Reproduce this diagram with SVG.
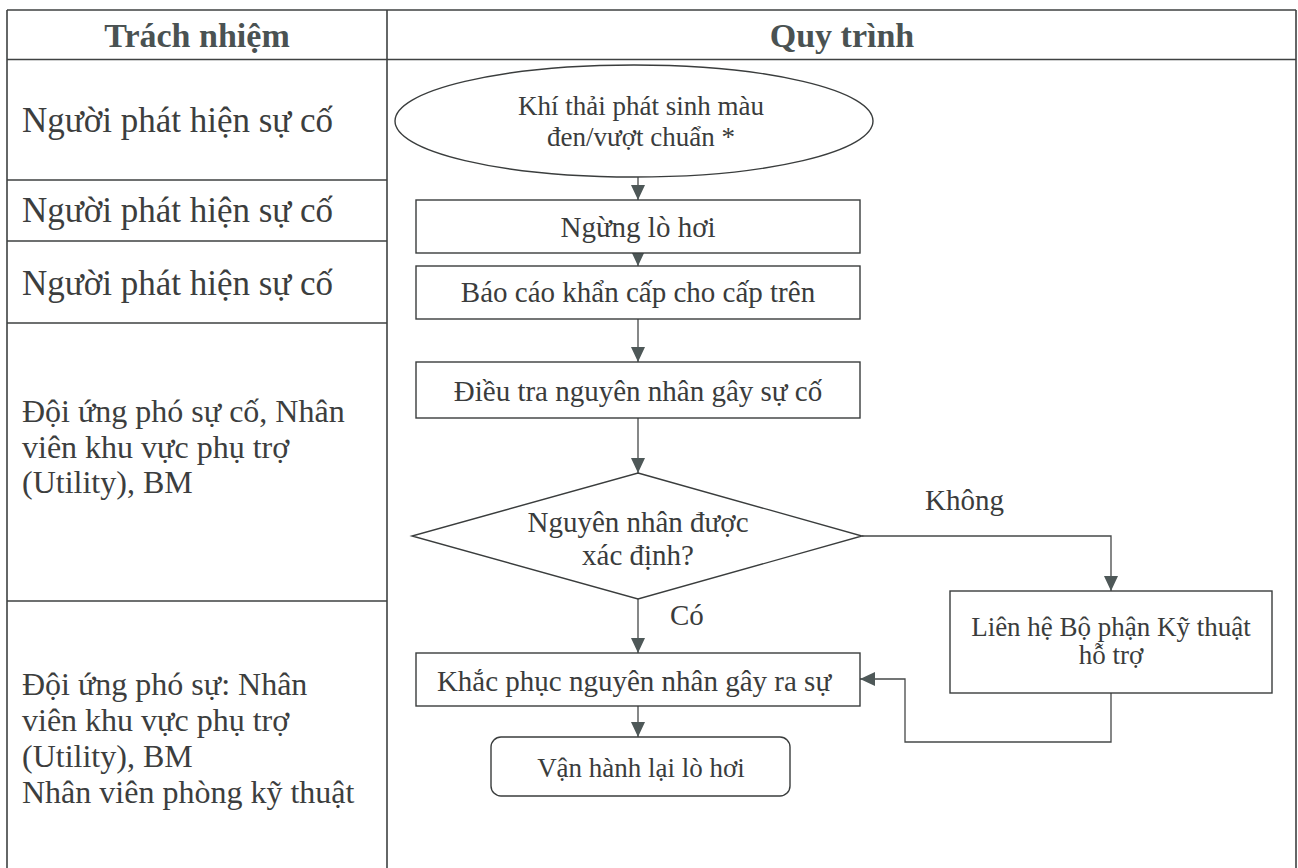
<svg xmlns="http://www.w3.org/2000/svg" width="1298" height="868" viewBox="0 0 1298 868">
  <style>
    .grid { stroke: #3f4242; stroke-width: 1.6; fill: none; }
    .shape { stroke: #3a3d3d; stroke-width: 1.4; fill: #ffffff; }
    .edge { stroke: #454848; stroke-width: 1.3; fill: none; }
    .hdr { font-family: "Liberation Serif", "Times New Roman", serif; font-weight: bold; font-size: 34px; fill: #4a5252; text-anchor: middle; }
    .role { font-family: "Liberation Serif", "Times New Roman", serif; font-size: 35px; fill: #3c3e3e; }
    .role-m { font-size: 32px; }
    .step { font-family: "Liberation Serif", "Times New Roman", serif; font-size: 29px; fill: #3a3c3c; text-anchor: middle; }
    .small { font-size: 27px; }
    .lbl { font-family: "Liberation Serif", "Times New Roman", serif; font-size: 29px; fill: #3a3c3c; }
  </style>
  <defs>
    <marker id="arrow" markerUnits="userSpaceOnUse" markerWidth="15" markerHeight="14" refX="15" refY="7" orient="auto">
      <path d="M0,0 L15,7 L0,14 z" fill="#4e5858"/>
    </marker>
  </defs>

  <rect width="1298" height="868" fill="#ffffff"/>

  <!-- table frame -->
  <g id="table">
    <path class="grid" d="M7,10 H1296 M7,10 V868 M1296,10 V868 M387,10 V868"/>
    <path class="grid" d="M7,59.5 H1296"/>
    <path class="grid" d="M7,180 H387 M7,241 H387 M7,323 H387 M7,601 H387"/>
    <text class="hdr" x="197" y="47">Trách nhiệm</text>
    <text class="hdr" x="842" y="47">Quy trình</text>
  </g>

  <!-- responsibility column -->
  <g id="roles">
    <text class="role" x="22" y="132">Người phát hiện sự cố</text>
    <text class="role" x="22" y="222">Người phát hiện sự cố</text>
    <text class="role" x="22" y="295">Người phát hiện sự cố</text>
    <text class="role role-m" x="22" y="422">
      <tspan x="22">Đội ứng phó sự cố, Nhân</tspan>
      <tspan x="22" dy="35.5">viên khu vực phụ trợ</tspan>
      <tspan x="22" dy="35.5">(Utility), BM</tspan>
    </text>
    <text class="role role-m" x="22" y="695">
      <tspan x="22">Đội ứng phó sự: Nhân</tspan>
      <tspan x="22" dy="36">viên khu vực phụ trợ</tspan>
      <tspan x="22" dy="36">(Utility), BM</tspan>
      <tspan x="22" dy="36">Nhân viên phòng kỹ thuật</tspan>
    </text>
  </g>

  <!-- connectors -->
  <g id="connectors">
    <path class="edge" d="M638,177 V200" marker-end="url(#arrow)"/>
    <path class="edge" d="M638,253 V266" marker-end="url(#arrow)"/>
    <path class="edge" d="M638,319 V362" marker-end="url(#arrow)"/>
    <path class="edge" d="M638,418 V473" marker-end="url(#arrow)"/>
    <path class="edge" d="M638,599 V653" marker-end="url(#arrow)"/>
    <path class="edge" d="M638,706 V737" marker-end="url(#arrow)"/>
    <path class="edge" d="M862,536 H1111 V591" marker-end="url(#arrow)"/>
    <path class="edge" d="M1111,693 V742 H905 V679 H860" marker-end="url(#arrow)"/>
    <text class="lbl" x="925" y="510">Không</text>
    <text class="lbl" x="670" y="625">Có</text>
  </g>

  <!-- process steps -->
  <g id="start">
    <ellipse class="shape" cx="634" cy="121" rx="239" ry="56"/>
    <text class="step small" x="641" y="115">Khí thải phát sinh màu</text>
    <text class="step small" x="641" y="146">đen/vượt chuẩn *</text>
  </g>
  <g id="stop-boiler">
    <rect class="shape" x="416" y="200" width="444" height="53"/>
    <text class="step" x="638" y="237">Ngừng lò hơi</text>
  </g>
  <g id="report">
    <rect class="shape" x="416" y="266" width="444" height="53"/>
    <text class="step" x="638" y="302">Báo cáo khẩn cấp cho cấp trên</text>
  </g>
  <g id="investigate">
    <rect class="shape" x="416" y="362" width="444" height="56"/>
    <text class="step" x="638" y="401">Điều tra nguyên nhân gây sự cố</text>
  </g>
  <g id="decision">
    <polygon class="shape" points="638,473 862,536 638,599 412,536"/>
    <text class="step" x="638" y="532">Nguyên nhân được</text>
    <text class="step" x="638" y="565">xác định?</text>
  </g>
  <g id="fix">
    <rect class="shape" x="416" y="653" width="444" height="53"/>
    <text class="step" x="634" y="691">Khắc phục nguyên nhân gây ra sự</text>
  </g>
  <g id="restart">
    <rect class="shape" x="491" y="737" width="299" height="59" rx="10" ry="10"/>
    <text class="step small" x="641" y="777">Vận hành lại lò hơi</text>
  </g>
  <g id="tech-support">
    <rect class="shape" x="950" y="591" width="322" height="102"/>
    <text class="step small" x="1111" y="636">Liên hệ Bộ phận Kỹ thuật</text>
    <text class="step small" x="1111" y="664">hỗ trợ</text>
  </g>
</svg>
